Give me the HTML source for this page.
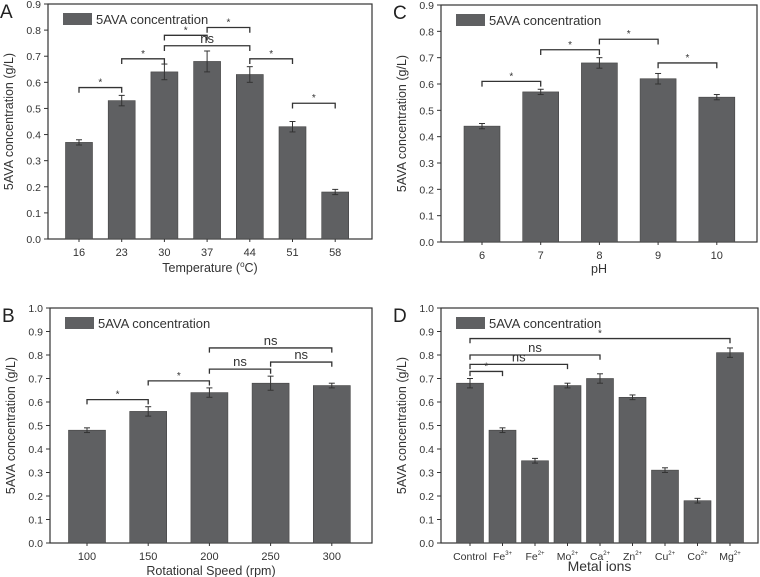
<!DOCTYPE html>
<html><head><meta charset="utf-8">
<style>
body{margin:0;background:#fff;}
svg{display:block;font-family:"Liberation Sans",sans-serif;}
</style></head>
<body>
<svg id="fig" width="760" height="577" viewBox="0 0 760 577"></svg>
<script>
// Panel A data
const aCategories = ['16','23','30','37','44','51','58'];
const aValues = [0.37,0.53,0.64,0.68,0.63,0.43,0.18];
const aErrors = [0.01,0.02,0.03,0.04,0.03,0.02,0.01];
const aBrackets = [[0,1,0.58,'*'],[1,2,0.69,'*'],[2,3,0.78,'*'],[3,4,0.81,'*'],[2,4,0.74,'ns'],[4,5,0.69,'*'],[5,6,0.52,'*']];
// Panel B data
const bCategories = ['100','150','200','250','300'];
const bValues = [0.48,0.56,0.64,0.68,0.67];
const bErrors = [0.01,0.02,0.02,0.03,0.01];
const bBrackets = [[0,1,0.61,'*'],[1,2,0.69,'*'],[2,3,0.74,'ns'],[3,4,0.77,'ns'],[2,4,0.83,'ns']];
// Panel C data
const cCategories = ['6','7','8','9','10'];
const cValues = [0.44,0.57,0.68,0.62,0.55];
const cErrors = [0.01,0.01,0.02,0.02,0.01];
const cBrackets = [[0,1,0.61,'*'],[1,2,0.73,'*'],[2,3,0.77,'*'],[3,4,0.68,'*']];
// Panel D data
const dCategories = [['Control',''],['Fe','3+'],['Fe','2+'],['Mo','2+'],['Ca','2+'],['Zn','2+'],['Cu','2+'],['Co','2+'],['Mg','2+']];
const dValues = [0.68,0.48,0.35,0.67,0.70,0.62,0.31,0.18,0.81];
const dErrors = [0.02,0.01,0.01,0.01,0.02,0.01,0.01,0.01,0.02];
const dBrackets = [[0,1,0.73,'*'],[0,3,0.76,'ns'],[0,4,0.80,'ns'],[0,8,0.87,'*']];
const aTicks = [0,0.1,0.2,0.3,0.4,0.5,0.6,0.7,0.8,0.9];
const dTicks = [0,0.1,0.2,0.3,0.4,0.5,0.6,0.7,0.8,0.9,1.0];

const NS='http://www.w3.org/2000/svg';
const svg=document.getElementById('fig');
function mk(tag,attrs,parent){const e=document.createElementNS(NS,tag);for(const k in attrs)e.setAttribute(k,attrs[k]);(parent||svg).appendChild(e);return e;}

function panel(p){
  const g=mk('g',{});
  
  
  const ymax=p.ticks[p.ticks.length-1];
  const y=v=>p.bottom-(v/ymax)*(p.bottom-p.top);
  const x=i=>p.c0+i*p.step;
  // frame
  const fr=mk('rect',{x:p.left,y:p.top,width:p.right-p.left,height:p.bottom-p.top,fill:'none',stroke:'#333','stroke-width':1.2},g);
  
  
  // y ticks
  p.ticks.forEach(t=>{
    mk('line',{x1:p.left-4,x2:p.left,y1:y(t),y2:y(t),stroke:'#333'},g);
    const tx=mk('text',{x:p.left-7,y:y(t)+4,'text-anchor':'end','font-size':10.5,fill:'#333'},g);
    tx.textContent=t.toFixed(1);
    
    
  });
  // y title
  const yt=mk('text',{x:0,y:0,transform:`translate(${p.left-35},${(p.top+p.bottom)/2}) rotate(-90)`,'text-anchor':'middle','font-size':12.5,fill:'#333'},g);
  yt.textContent='5AVA concentration (g/L)';
  
  
  // bars
  p.values.forEach((v,i)=>{
    const b=mk('rect',{x:x(i)-p.bw/2,y:y(v),width:p.bw,height:p.bottom-y(v),fill:'#5f6062',stroke:'#444','stroke-width':0.6},g);
    
    
    const e=p.errors[i];
    mk('line',{x1:x(i),x2:x(i),y1:y(v+e),y2:y(v-e),stroke:'#333'},g);
    mk('line',{x1:x(i)-3,x2:x(i)+3,y1:y(v+e),y2:y(v+e),stroke:'#333'},g);
    mk('line',{x1:x(i)-3,x2:x(i)+3,y1:y(v-e),y2:y(v-e),stroke:'#333'},g);
    mk('line',{x1:x(i),x2:x(i),y1:p.bottom,y2:p.bottom+3,stroke:'#333'},g);
    const c=p.cats[i];
    const lt=mk('text',{x:x(i),y:p.bottom+17,'text-anchor':'middle','font-size':p.id==='D'?10.5:11,fill:'#333'},g);
    
    
    if(Array.isArray(c)){
      lt.textContent=c[0];
      if(c[1]){const s=mk('tspan',{'font-size':6,dy:-5},lt);s.textContent=c[1];}
    } else lt.textContent=c;
  });
  // brackets
  p.brackets.forEach(br=>{
    const [i,j,v,lab]=br;
    const yy=y(v),yd=y(v-0.02);
    const pl=mk('polyline',{points:`${x(i)},${yd} ${x(i)},${yy} ${x(j)},${yy} ${x(j)},${yd}`,fill:'none',stroke:'#333','stroke-width':1.3},g);
    
    
    const t=mk('text',{x:(x(i)+x(j))/2,y:lab==='ns'?yy-3:yy-2,'text-anchor':'middle','font-size':lab==='ns'?13:10,fill:'#333'},g);
    t.textContent=lab;
    
    
  });
  // legend
  const lg=mk('g',{},g);
  
  
  mk('rect',{x:p.left+15,y:p.top+9,width:29,height:12,fill:'#5f6062'},lg);
  const ltx=mk('text',{x:p.left+48,y:p.top+20,'font-size':13,fill:'#333'},lg);
  ltx.textContent='5AVA concentration';
  // x title
  const xt=mk('text',{x:(p.left+p.right)/2,y:p.xtY,'text-anchor':'middle','font-size':p.id==='D'?14:12.5,fill:'#333'},g);
  if(p.id==='A'){xt.textContent='Temperature (';const s=mk('tspan',{'font-size':8,dy:-5},xt);s.textContent='o';const s2=mk('tspan',{dy:5},xt);s2.textContent='C)';}
  else xt.textContent=p.xt;
  
  
  // panel letter
  const pl=mk('text',{x:p.left-48,y:p.top+14,'font-size':19,fill:'#222'},g);
  pl.textContent=p.id;
  
  
}
panel({id:'A',left:48,right:372,top:4,bottom:239,c0:79,step:42.7,bw:27,ticks:aTicks,cats:aCategories,values:aValues,errors:aErrors,brackets:aBrackets,xt:'',xtY:272});
panel({id:'B',left:50,right:372,top:308,bottom:543,c0:87,step:61.2,bw:37,ticks:dTicks,cats:bCategories,values:bValues,errors:bErrors,brackets:bBrackets,xt:'Rotational Speed (rpm)',xtY:575});
panel({id:'C',left:441,right:757,top:5,bottom:242,c0:482,step:58.7,bw:36,ticks:aTicks,cats:cCategories,values:cValues,errors:cErrors,brackets:cBrackets,xt:'pH',xtY:273});
panel({id:'D',left:441,right:758,top:308,bottom:543,c0:470,step:32.5,bw:27,ticks:dTicks,cats:dCategories,values:dValues,errors:dErrors,brackets:dBrackets,xt:'Metal ions',xtY:571});
</script>
</body></html>
